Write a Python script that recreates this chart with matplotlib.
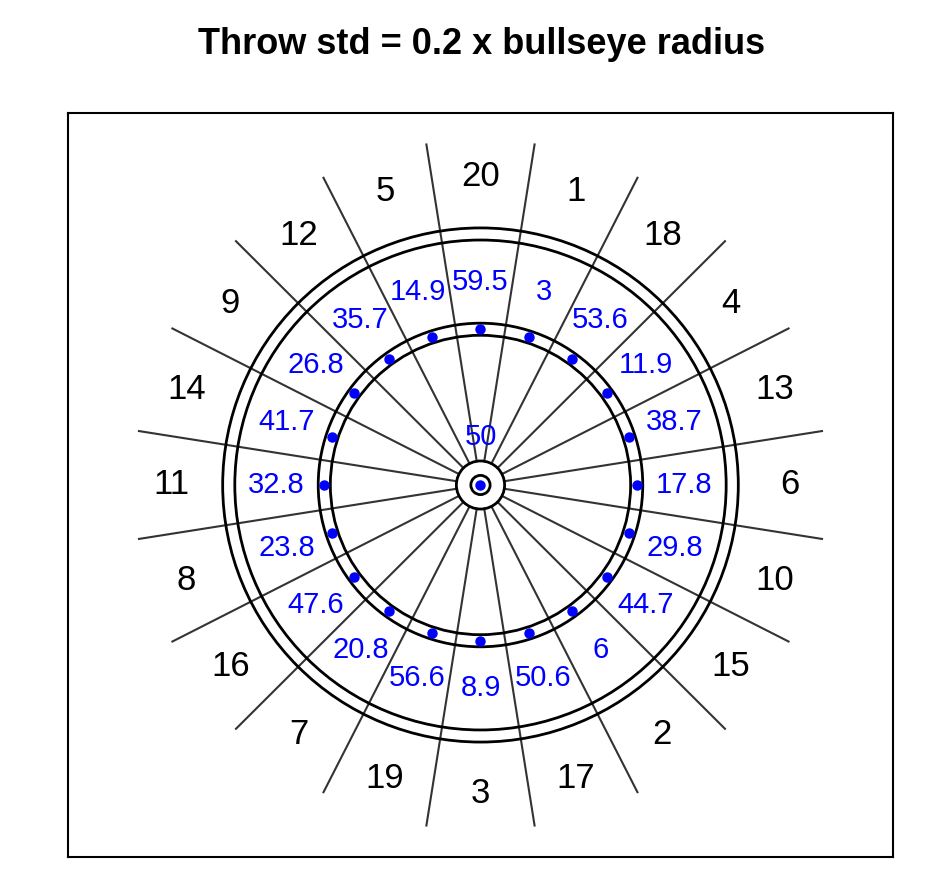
import numpy as np
import matplotlib
matplotlib.use("Agg")
import matplotlib.pyplot as plt
from matplotlib.patches import Circle

plt.rcParams['font.family'] = ['Liberation Sans', 'DejaVu Sans']

# sectors clockwise from the top
sectors = [20, 1, 18, 4, 13, 6, 10, 15, 2, 17, 3, 19, 7, 16, 8, 11, 14, 9, 12, 5]
# expected score when aiming at the treble of each sector
treble_scores = [59.5, 3, 53.6, 11.9, 38.7, 17.8, 29.8, 44.7, 6, 50.6,
                 8.9, 56.6, 20.8, 47.6, 23.8, 32.8, 41.7, 26.8, 35.7, 14.9]
bull_score = 50

# board geometry in mm
r_bull_in = 6.35
r_bull_out = 15.9
r_treble_in = 99.0
r_treble_out = 107.0
r_double_in = 162.0
r_double_out = 170.0
r_wire_end = 228.0
r_numbers = 204.0

fig = plt.figure(figsize=(9.3, 8.94), dpi=100)
ax = fig.add_axes([0.0731, 0.0414, 0.8871, 0.8322])

for r in [r_bull_in, r_bull_out, r_treble_in, r_treble_out, r_double_in, r_double_out]:
    ax.add_patch(Circle((0, 0), r, fill=False, edgecolor='black', lw=2.0, zorder=2))

# sector wires
for k in range(20):
    a = np.deg2rad(90 + 9 - 18 * k)
    ax.plot([r_bull_out * np.cos(a), r_wire_end * np.cos(a)],
            [r_bull_out * np.sin(a), r_wire_end * np.sin(a)],
            color='#333333', lw=1.5, zorder=1)

r_mid_treble = (r_treble_in + r_treble_out) / 2
r_mid_text = (r_treble_out + r_double_in) / 2
for k, (s, v) in enumerate(zip(sectors, treble_scores)):
    a = np.deg2rad(90 - 18 * k)
    ax.text(r_numbers * np.cos(a), r_numbers * np.sin(a), str(s),
            ha='center', va='center', fontsize=25, color='black')
    ax.plot(r_mid_treble * np.cos(a), r_mid_treble * np.sin(a), 'o',
            color='blue', ms=6.5, zorder=3)
    ax.text(r_mid_text * np.cos(a), r_mid_text * np.sin(a), '{:g}'.format(v),
            ha='center', va='center', fontsize=21, color='blue')

ax.plot(0, 0, 'o', color='blue', ms=6.5, zorder=3)
ax.text(0, 2 * r_bull_out, '{:g}'.format(bull_score),
        ha='center', va='center', fontsize=21, color='blue')

ax.set_xlim(-272, 272)
ax.set_ylim(-246, 246)
ax.set_xticks([])
ax.set_yticks([])
for sp in ax.spines.values():
    sp.set_linewidth(1.5)

fig.text(0.518, 1 - 44 / 894, 'Throw std = 0.2 x bullseye radius',
         ha='center', va='center', fontsize=26, fontweight='bold')

fig.savefig('out.png', dpi=100)
